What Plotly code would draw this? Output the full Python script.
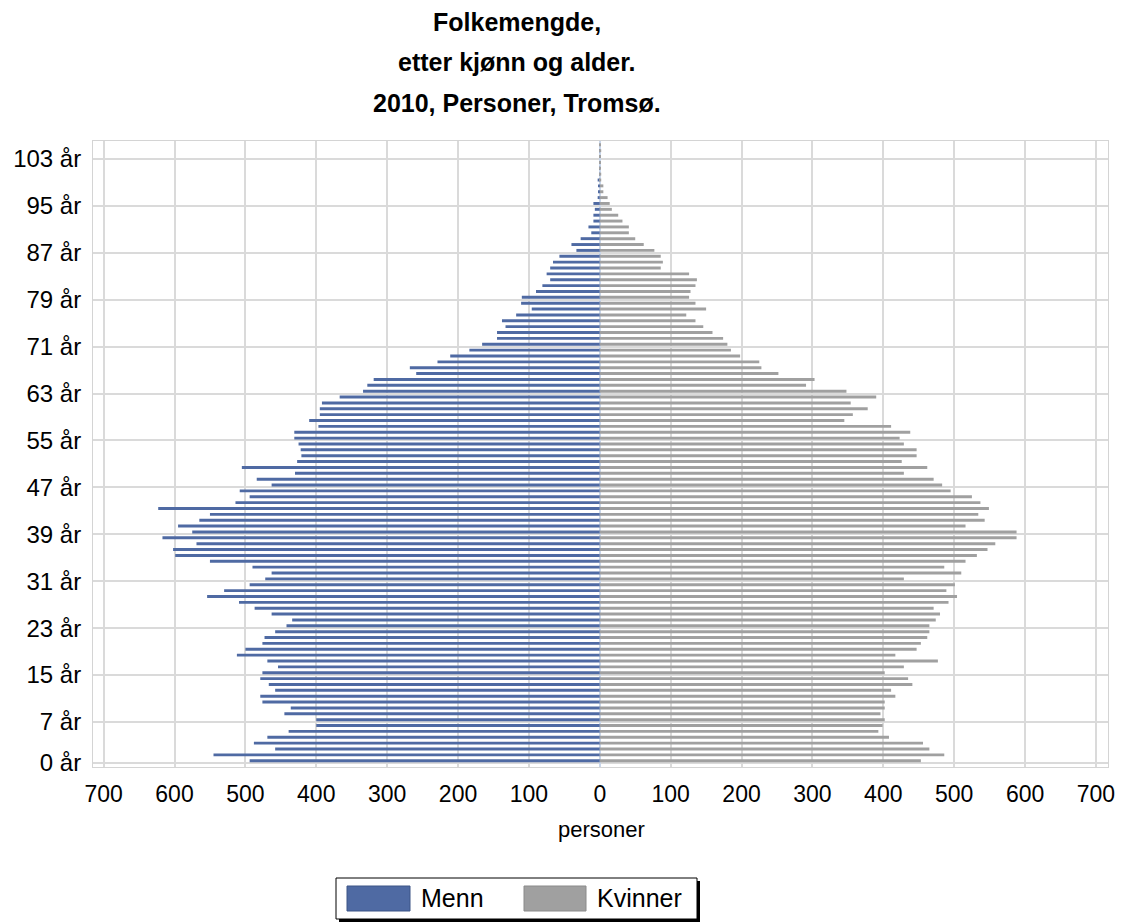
import plotly.graph_objects as go

# Folkemengde i Tromsø 2010, etter kjønn og alder (alder 0-105)
alder = list(range(0, 106))
menn = [
    494, 545, 458, 488, 469, 439, 400, 400, 445, 436,   # 0-9
    476, 479, 458, 467, 479, 476, 454, 469, 512, 500,   # 10-19
    476, 473, 458, 442, 434, 463, 487, 509, 554, 530,   # 20-29
    494, 472, 463, 490, 550, 599, 602, 569, 617, 575,   # 30-39
    595, 565, 550, 623, 514, 494, 508, 463, 484, 430,   # 40-49
    505, 427, 421, 422, 425, 431, 431, 397, 410, 395,   # 50-59
    395, 392, 367, 334, 328, 319, 259, 268, 229, 211,   # 60-69
    184, 166, 145, 145, 133, 138, 118, 96, 111, 110,    # 70-79
    90, 81, 70, 75, 70, 66, 57, 33, 40, 27,             # 80-89
    12, 16, 9, 9, 7, 9, 3, 2, 2, 3,                     # 90-99
    1, 1, 1, 0, 1, 0,                                   # 100-105
]
kvinner = [
    453, 486, 465, 456, 408, 393, 399, 402, 396, 402,
    402, 417, 411, 441, 435, 402, 429, 477, 417, 447,
    453, 462, 465, 465, 474, 480, 471, 492, 504, 489,
    501, 429, 510, 486, 516, 532, 547, 558, 588, 588,
    516, 543, 534, 549, 537, 525, 495, 483, 471, 429,
    462, 426, 447, 447, 429, 423, 438, 411, 345, 357,
    378, 354, 390, 348, 291, 303, 252, 228, 225, 198,
    185, 180, 174, 159, 146, 135, 122, 150, 135, 126,
    128, 135, 137, 126, 86, 89, 86, 77, 62, 50,
    41, 41, 32, 26, 17, 14, 11, 5, 5, 2,
    2, 1, 1, 1, 2, 1,
]
alder_ticks = [0, 7, 15, 23, 31, 39, 47, 55, 63, 71, 79, 87, 95, 103]
x_ticks = list(range(-700, 701, 100))

FONT = "Liberation Sans, Arial, sans-serif"
BLA = "#4f6aa3"
GRA = "#a0a0a0"

# siden har 8 px kantmarg, så figuren gjøres 8 px mindre
OFF = 8
W, H = 1127 - OFF, 924 - OFF
L, R, T, B = 93 - OFF, 19, 141 - OFF, 157


def px(x):
    # skjermpiksel -> paper-koordinat
    return (x - OFF - L) / (W - L - R)


def py(y):
    return (H - B - (y - OFF)) / (H - T - B)


fig = go.Figure()
fig.add_trace(go.Bar(
    y=alder, x=[-v for v in menn], orientation="h", name="Menn",
    marker=dict(color=BLA, line=dict(width=0)), width=0.5,
    customdata=menn, hovertemplate="%{y} år: %{customdata}<extra>Menn</extra>",
))
fig.add_trace(go.Bar(
    y=alder, x=kvinner, orientation="h", name="Kvinner",
    marker=dict(color=GRA, line=dict(width=0)), width=0.5,
    hovertemplate="%{y} år: %{x}<extra>Kvinner</extra>",
))

fig.update_layout(
    width=W, height=H,
    margin=dict(l=L, r=R, t=T, b=B),
    barmode="relative",
    showlegend=False,
    paper_bgcolor="white",
    plot_bgcolor="white",
    font=dict(family=FONT, size=23, color="black"),
)
fig.update_xaxes(
    range=[-715, 717], automargin=False,
    tickvals=x_ticks, ticktext=[str(abs(v)) for v in x_ticks],
    showgrid=True, gridcolor="#dadada", gridwidth=2,
    zeroline=True, zerolinecolor="#c9d6ea", zerolinewidth=2,
    showline=True, mirror=True, linecolor="#d4d4d4", linewidth=1,
    ticks="outside", ticklen=6, tickcolor="white",
    tickfont=dict(size=23),
)
fig.update_yaxes(
    range=[-1.07, 105.65], automargin=False,
    tickvals=[a - 0.4 for a in alder_ticks],
    ticktext=[f"{a} år" for a in alder_ticks],
    showgrid=True, gridcolor="#dadada", gridwidth=2,
    zeroline=False,
    showline=True, mirror=True, linecolor="#d4d4d4", linewidth=1,
    ticks="outside", ticklen=6, tickcolor="white",
    tickfont=dict(size=24),
)

# tittel, tre linjer
for tekst, yy in [("Folkemengde,", 22), ("etter kjønn og alder.", 62),
                  ("2010, Personer, Tromsø.", 103)]:
    fig.add_annotation(
        text=f"<b>{tekst}</b>", x=px(517), y=py(yy), xref="paper", yref="paper",
        showarrow=False, xanchor="center", yanchor="middle",
        font=dict(size=25),
    )

fig.add_annotation(
    text="personer", x=px(601), y=py(829), xref="paper", yref="paper",
    showarrow=False, xanchor="center", yanchor="middle", font=dict(size=22),
)

# forklaring (legend) med store fargefelt
shapes = [
    dict(type="rect", x0=px(339), x1=px(700), y0=py(881), y1=py(922),
         fillcolor="black", line=dict(width=0)),
    dict(type="rect", x0=px(336), x1=px(697), y0=py(878), y1=py(919),
         fillcolor="white", line=dict(color="black", width=1)),
    dict(type="rect", x0=px(347), x1=px(410), y0=py(886), y1=py(911),
         fillcolor=BLA, line=dict(color="#3d5586", width=1)),
    dict(type="rect", x0=px(524), x1=px(586), y0=py(886), y1=py(911),
         fillcolor=GRA, line=dict(color="#8a8a8a", width=1)),
]
for s in shapes:
    s.update(xref="paper", yref="paper")
    fig.add_shape(**s)
for tekst, xx in [("Menn", 419), ("Kvinner", 595)]:
    fig.add_annotation(
        text=tekst, x=px(xx), y=py(898), xref="paper", yref="paper",
        showarrow=False, xanchor="left", yanchor="middle", font=dict(size=25),
    )

fig.write_html("out.html")
